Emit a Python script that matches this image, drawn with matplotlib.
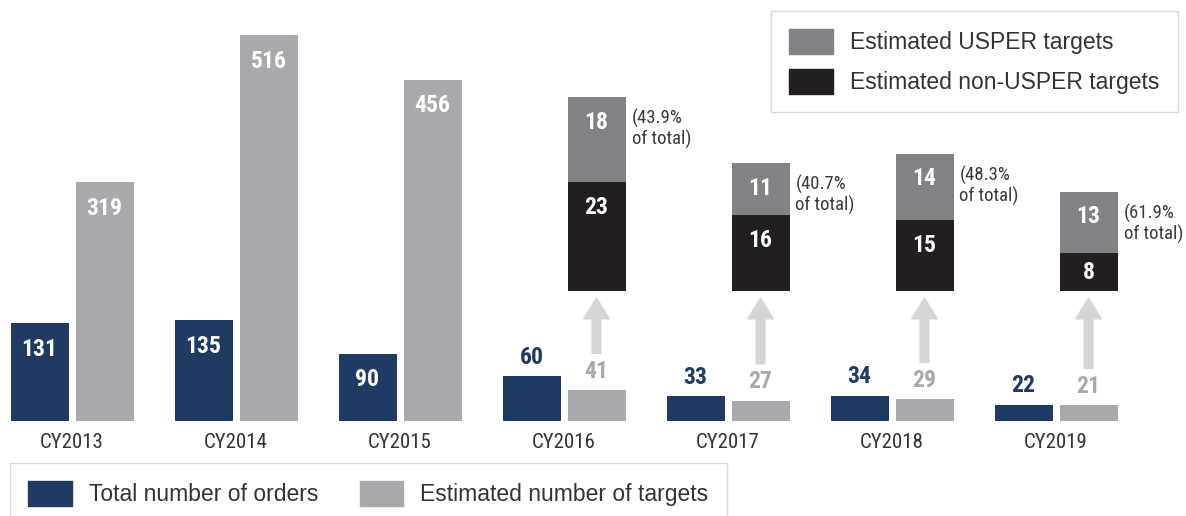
import matplotlib.pyplot as plt
import matplotlib.patches as mpatches
import numpy as np

years = ['CY2013', 'CY2014', 'CY2015', 'CY2016', 'CY2017', 'CY2018', 'CY2019']
orders = [131, 135, 90, 60, 33, 34, 22]
targets = [319, 516, 456, 41, 27, 29, 21]

# breakdown shown for 2016-2019 only
split_idx = [3, 4, 5, 6]
non_usper = [23, 16, 15, 8]
usper = [18, 11, 14, 13]
usper_pct = ['43.9%', '40.7%', '48.3%', '61.9%']

NAVY = '#1f3b63'
LIGHT = '#a7a9ac'
MID = '#808285'
BLACK = '#231f20'
ARROW = '#d4d5d6'

narrow = ['Roboto Condensed', 'DejaVu Sans']
plt.rcParams['font.family'] = ['Liberation Sans', 'DejaVu Sans']

fig = plt.figure(figsize=(11.86, 5.16), dpi=100)
ax = fig.add_axes([0, 95 / 516, 1, 421 / 516])
ax2 = ax.twinx()

ppu = 0.748      # pixels per unit, main bars
ppu2 = 4.73      # pixels per unit, stacked bars
ax.set_ylim(0, 421 / ppu)
ax2.set_ylim(-130 / ppu2, (421 - 130) / ppu2)
ax.set_xlim(-72 / 164, (1186 - 72) / 164)
ax2.set_xlim(ax.get_xlim())

w = 58 / 164
off = 32.5 / 164
x = np.arange(len(years))

ax.bar(x - off, orders, w, color=NAVY)
ax.bar(x + off, targets, w, color=LIGHT)

for i in range(len(years)):
    if i < 3:
        ax.text(x[i] - off, orders[i] - 26 / ppu, str(orders[i]), ha='center', va='center',
                color='white', fontsize=17, fontweight='bold', family=narrow)
        ax.text(x[i] + off, targets[i] - 26 / ppu, str(targets[i]), ha='center', va='center',
                color='white', fontsize=17, fontweight='bold', family=narrow)
    else:
        ax.text(x[i] - off, orders[i] + 19 / ppu, str(orders[i]), ha='center', va='center',
                color=NAVY, fontsize=17, fontweight='bold', family=narrow)
        ax.text(x[i] + off, targets[i] + 19 / ppu, str(targets[i]), ha='center', va='center',
                color=LIGHT, fontsize=17, fontweight='bold', family=narrow)

# stacked breakdown bars
xs = x[split_idx] + off
ax2.bar(xs, non_usper, w, color=BLACK)
ax2.bar(xs, usper, w, bottom=non_usper, color=MID)

for j, i in enumerate(split_idx):
    top1 = non_usper[j]
    top2 = non_usper[j] + usper[j]
    y1 = max(top1 - 25 / ppu2, top1 / 2)
    y2 = max(top2 - 25 / ppu2, top1 + usper[j] / 2)
    ax2.text(xs[j], y1, str(non_usper[j]), ha='center', va='center', color='white',
             fontsize=17, fontweight='bold', family=narrow)
    ax2.text(xs[j], y2, str(usper[j]), ha='center', va='center', color='white',
             fontsize=17, fontweight='bold', family=narrow)
    ax2.text(xs[j] + w / 2 + 6 / 164, top2 - 12 / ppu2, '(' + usper_pct[j] + '\nof total)',
             ha='left', va='top', fontsize=13.5, color='#3a3a3a', linespacing=1.1, family=narrow)
    # arrow from target bar up to breakdown
    ax2.annotate('', xy=(xs[j], -7 / ppu2),
                 xytext=(xs[j], (targets[i] * ppu + 37 - 130) / ppu2),
                 arrowprops=dict(arrowstyle='simple,head_width=1.6,head_length=1.3,tail_width=0.55',
                                 mutation_scale=11.5, color=ARROW, shrinkA=0, shrinkB=0))

ax.set_xticks(x)
ax.set_xticklabels(years, fontsize=15, color='#333333', family=narrow)
ax.tick_params(axis='x', length=0, pad=9)
ax.set_yticks([])
ax2.set_yticks([])
for a in (ax, ax2):
    for s in a.spines.values():
        s.set_visible(False)

# legends
h_top = [mpatches.Patch(color=MID), mpatches.Patch(color=BLACK)]
fig.legend(h_top, ['Estimated USPER targets', 'Estimated non-USPER targets'],
           loc='upper left', bbox_to_anchor=(771 / 1186, 1 - 11 / 516), fontsize=16.5,
           labelcolor='#333333', frameon=True, fancybox=False, edgecolor='#d0d0d0',
           handlelength=1.9, handleheight=1.25, labelspacing=0.66, handletextpad=0.75,
           borderpad=0.8, borderaxespad=0)

h_bot = [mpatches.Patch(color=NAVY), mpatches.Patch(color=LIGHT)]
fig.legend(h_bot, ['Total number of orders', 'Estimated number of targets'],
           loc='upper left', bbox_to_anchor=(10 / 1186, 1 - 463 / 516), fontsize=16.5, ncol=2,
           labelcolor='#333333', frameon=True, fancybox=False, edgecolor='#d0d0d0',
           handlelength=1.9, handleheight=1.25, handletextpad=0.75, columnspacing=1.8,
           borderpad=0.8, borderaxespad=0)

fig.savefig('out.png', dpi=100)
